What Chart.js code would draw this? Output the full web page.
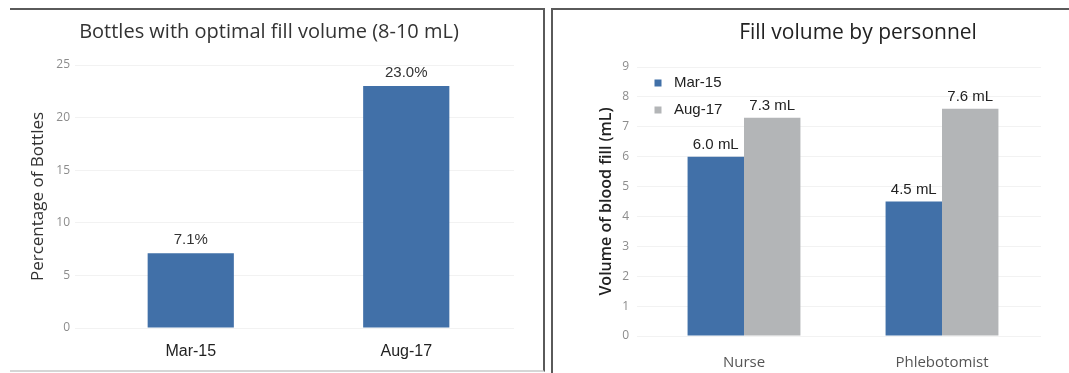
<!DOCTYPE html>
<html>
<head>
<meta charset="utf-8">
<script src="https://cdn.jsdelivr.net/npm/chart.js@4.4.1/dist/chart.umd.min.js"></script>
<style>
  html, body { margin: 0; padding: 0; background: #fff; width: 1069px; height: 373px; overflow: hidden; }
  .panel { position: absolute; box-sizing: border-box; }
  #panelLeft  { left: 10px; top: 8px; width: 535px; height: 364px;
                border-top: 2px solid #5a5a5a; border-right: 2px solid #5a5a5a; border-bottom: 2px solid #d6d6d6; }
  #panelRight { left: 551px; top: 8px; width: 520px; height: 370px;
                border-top: 2px solid #5a5a5a; border-left: 2px solid #5a5a5a; }
  canvas { position: absolute; }
  #pctChart  { left: 10px;  top: 10px; }
  #fillChart { left: 555px; top: 10px; }
</style>
</head>
<body>
<div class="panel" id="panelLeft"></div>
<div class="panel" id="panelRight"></div>
<canvas id="pctChart" width="530" height="358"></canvas>
<canvas id="fillChart" width="514" height="363"></canvas>

<script>
// ── DATA ──
const periods    = ['Mar-15', 'Aug-17'];
const optimalPct = [7.1, 23.0];          // % of bottles with 8-10 mL

const personnel  = ['Nurse', 'Phlebotomist'];
const fillMar15  = [6.0, 4.5];           // mL
const fillAug17  = [7.3, 7.6];           // mL

const colors = {
  blue: '#4170a8',
  gray: '#b3b5b7',
  text: '#2a2a2a',
  tick: '#8c8c8c',
  grid: '#f2f2f2'
};

// ── PLUGINS ──
// title drawn at a fixed spot so it can sit off-centre like the scan
const panelTitle = {
  id: 'panelTitle',
  afterDraw(chart, args, opts) {
    const c = chart.ctx;
    c.save();
    c.font = opts.font;
    c.fillStyle = opts.color;
    c.textAlign = 'center';
    c.textBaseline = 'middle';
    c.fillText(opts.text, opts.x, opts.y);
    c.restore();
  }
};

// value labels above each bar
const barValues = {
  id: 'barValues',
  afterDatasetsDraw(chart, args, opts) {
    const c = chart.ctx;
    c.save();
    c.font = opts.font;
    c.fillStyle = opts.color;
    c.textAlign = 'center';
    c.textBaseline = 'middle';
    chart.data.datasets.forEach((ds, i) => {
      chart.getDatasetMeta(i).data.forEach((bar, j) => {
        c.fillText(opts.format(ds.data[j]), bar.x, bar.y - opts.offset);
      });
    });
    c.restore();
  }
};

// legend stacked inside the plot, top-left
const innerLegend = {
  id: 'innerLegend',
  afterDraw(chart, args, opts) {
    if (!opts.display) return;
    const c = chart.ctx;
    c.save();
    c.font = opts.font;
    c.textBaseline = 'middle';
    chart.data.datasets.forEach((ds, i) => {
      const y = opts.y + i * opts.gap;
      c.fillStyle = ds.backgroundColor;
      c.fillRect(opts.x - 3.5, y - 3.5, 7, 7);
      c.fillStyle = opts.color;
      c.fillText(ds.label, opts.x + 16, y);
    });
    c.restore();
  }
};

Chart.defaults.font.family = "'Open Sans', sans-serif";
Chart.defaults.color = colors.text;

// ── CHART 1: optimal fill ──
new Chart(document.getElementById('pctChart'), {
  type: 'bar',
  data: {
    labels: periods,
    datasets: [{
      label: 'Optimal fill',
      data: optimalPct,
      backgroundColor: colors.blue,
      barPercentage: 0.4,
      categoryPercentage: 1
    }]
  },
  options: {
    responsive: false,
    animation: false,
    layout: { padding: { top: 55, right: 26, left: 0, bottom: 0 } },
    plugins: {
      legend: { display: false },
      tooltip: { enabled: false },
      panelTitle: {
        text: 'Bottles with optimal fill volume (8-10 mL)',
        x: 259, y: 22,
        font: "20px 'Open Sans', sans-serif",
        color: '#333'
      },
      barValues: {
        font: "15px 'Liberation Sans', Arial, sans-serif",
        color: '#333',
        offset: 13,
        format: (v) => v.toFixed(1) + '%'
      },
      innerLegend: { display: false }
    },
    scales: {
      x: {
        grid: { display: false },
        border: { display: false },
        ticks: { color: '#222', padding: 6, font: { family: "'Liberation Sans', Arial, sans-serif", size: 16 } },
        afterFit: (s) => { s.height = 40; }
      },
      y: {
        min: 0, max: 25,
        grid: { color: colors.grid },
        border: { display: false },
        ticks: { stepSize: 5, color: colors.tick, padding: 5, font: { size: 12 } },
        title: { display: true, text: 'Percentage of Bottles', color: '#333', font: { size: 17 }, padding: { top: 18, bottom: 0 } },
        afterFit: (s) => { s.width = 73; }
      }
    }
  },
  plugins: [panelTitle, barValues, innerLegend]
});

// ── CHART 2: fill by personnel ──
new Chart(document.getElementById('fillChart'), {
  type: 'bar',
  data: {
    labels: personnel,
    datasets: [
      { label: 'Mar-15', data: fillMar15, backgroundColor: colors.blue, barPercentage: 1, categoryPercentage: 0.57 },
      { label: 'Aug-17', data: fillAug17, backgroundColor: colors.gray, barPercentage: 1, categoryPercentage: 0.57 }
    ]
  },
  options: {
    responsive: false,
    animation: false,
    layout: { padding: { top: 57, right: 28, left: 0, bottom: 0 } },
    plugins: {
      legend: { display: false },
      tooltip: { enabled: false },
      panelTitle: {
        text: 'Fill volume by personnel',
        x: 303, y: 23,
        font: "21px 'Open Sans', sans-serif",
        color: '#222'
      },
      barValues: {
        font: "15px 'Liberation Sans', Arial, sans-serif",
        color: '#222',
        offset: 12,
        format: (v) => v.toFixed(1) + ' mL'
      },
      innerLegend: {
        display: true,
        x: 103, y: 73, gap: 27,
        font: "15px 'Liberation Sans', Arial, sans-serif",
        color: '#222'
      }
    },
    scales: {
      x: {
        grid: { display: false },
        border: { display: false },
        ticks: { color: '#555', padding: 10, font: { size: 15 } },
        afterFit: (s) => { s.height = 37; }
      },
      y: {
        min: 0, max: 9,
        grid: { color: colors.grid },
        border: { display: false },
        ticks: { stepSize: 1, color: colors.tick, padding: 8, font: { size: 12 } },
        title: { display: true, text: 'Volume of blood fill (mL)', color: '#222', font: { size: 16, weight: '600' }, padding: { top: 42, bottom: 0 } },
        afterFit: (s) => { s.width = 90; }
      }
    }
  },
  plugins: [panelTitle, barValues, innerLegend]
});
</script>
</body>
</html>
